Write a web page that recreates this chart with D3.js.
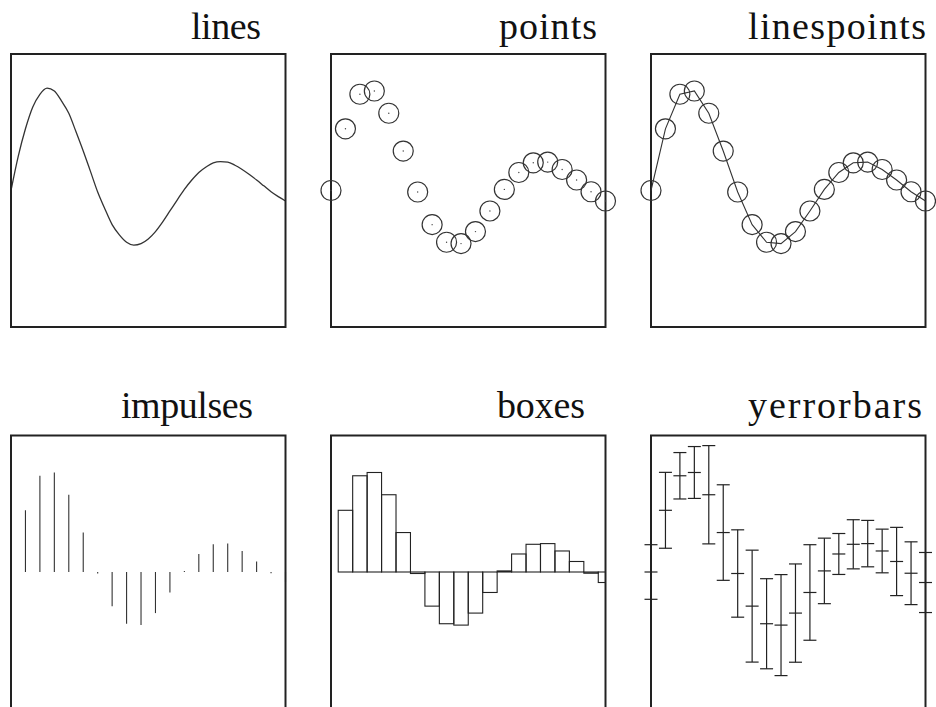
<!DOCTYPE html>
<html>
<head>
<meta charset="utf-8">
<script src="https://cdn.jsdelivr.net/npm/d3@7"></script>
<style>
  html, body { margin: 0; padding: 0; background: #fff; }
  svg { display: block; }
  .ttl { font-family: "Liberation Serif", "Times New Roman", serif; font-size: 38px; fill: #111; }
</style>
</head>
<body>
<svg id="chart" width="936" height="707"></svg>
<script>
// Plot-style names, one per panel (row-major)
const titles = ["lines", "points", "linespoints", "impulses", "boxes", "yerrorbars"];

// Sample positions and values shared by the discrete panels
const sampleX = [0, 1, 2, 3, 4, 5, 6, 7, 8, 9, 10, 11, 12, 13, 14, 15, 16, 17, 18, 19];
const sampleY = [0.000, 0.452, 0.705, 0.729, 0.566, 0.289, -0.011, -0.250, -0.379, -0.389,
                 -0.301, -0.150, 0.008, 0.132, 0.203, 0.208, 0.154, 0.077, -0.009, -0.077];

// Half-width of each error bar
const errorY = [0.20, 0.278, 0.17, 0.19, 0.36, 0.35, 0.32, 0.41, 0.33, 0.37,
                0.36, 0.35, 0.24, 0.15, 0.18, 0.17, 0.16, 0.25, 0.23, 0.22];

// Finer sampling of the same damped wave for the continuous "lines" panel
const curveX = [0, 0.5, 1, 1.5, 2, 2.5, 3, 3.5, 4, 4.5, 5, 5.5, 6, 6.5, 7, 7.5, 8, 8.5, 9, 9.5,
                10, 10.5, 11, 11.5, 12, 12.5, 13, 13.5, 14, 14.5, 15, 15.5, 16, 16.5, 17, 17.5, 18, 18.5, 19];
const curveY = [0.000, 0.250, 0.452, 0.610, 0.705, 0.750, 0.729, 0.655, 0.566, 0.430, 0.289, 0.140,
                -0.011, -0.135, -0.250, -0.325, -0.379, -0.400, -0.389, -0.355, -0.301, -0.230,
                -0.150, -0.070, 0.008, 0.075, 0.132, 0.172, 0.203, 0.212, 0.208, 0.185, 0.154,
                0.117, 0.077, 0.034, -0.009, -0.045, -0.077];

// ---- layout ----
const W = 274.5, H = 273;
const colLeft = [11, 331, 651];
const rowTop = [54, 435.5];
const titleEnd = [261, 597, 926, 253, 585, 922];
const titleWidth = [70, 98, 178, 132, 88, 174];
const titleBase = [38.5, 418];

const ink = "#222";
const svg = d3.select("#chart");

const x = d3.scaleLinear().domain([0, 19]).range([0, W]);
const y = d3.scaleLinear().domain([-1, 1]).range([H, 0]);

const pts = sampleX.map((v, i) => ({ x: v, y: sampleY[i], e: errorY[i] }));
const curvePts = curveX.map((v, i) => ({ x: v, y: curveY[i] }));

function panel(idx) {
  const col = idx % 3, row = Math.floor(idx / 3);
  const g = svg.append("g").attr("transform", `translate(${colLeft[col]},${rowTop[row]})`);
  svg.append("text").attr("class", "ttl")
    .attr("x", titleEnd[idx] - titleWidth[idx]).attr("y", titleBase[row])
    .attr("textLength", titleWidth[idx]).attr("lengthAdjust", "spacing")
    .text(titles[idx]);
  return g;
}

function frame(g) {
  g.append("rect").attr("x", 0).attr("y", 0).attr("width", W).attr("height", H)
    .attr("fill", "none").attr("stroke", ink).attr("stroke-width", 2);
}

const lineGen = d3.line().x(d => x(d.x)).y(d => y(d.y));

// lines
{
  const g = panel(0);
  g.append("path").datum(curvePts)
    .attr("d", lineGen.curve(d3.curveMonotoneX))
    .attr("fill", "none").attr("stroke", "#333").attr("stroke-width", 1.3);
  frame(g);
}

// points
{
  const g = panel(1);
  frame(g);
  g.selectAll("circle.ring").data(pts).join("circle").attr("class", "ring")
    .attr("cx", d => x(d.x)).attr("cy", d => y(d.y)).attr("r", 10)
    .attr("fill", "none").attr("stroke", "#333").attr("stroke-width", 1.2);
  g.selectAll("circle.dot").data(pts).join("circle").attr("class", "dot")
    .attr("cx", d => x(d.x)).attr("cy", d => y(d.y)).attr("r", 0.7)
    .attr("fill", "#444");
}

// linespoints
{
  const g = panel(2);
  frame(g);
  g.append("path").datum(pts)
    .attr("d", d3.line().x(d => x(d.x)).y(d => y(d.y)))
    .attr("fill", "none").attr("stroke", "#333").attr("stroke-width", 1.1);
  g.selectAll("circle").data(pts).join("circle")
    .attr("cx", d => x(d.x)).attr("cy", d => y(d.y)).attr("r", 10)
    .attr("fill", "none").attr("stroke", "#333").attr("stroke-width", 1.2);
}

// impulses
{
  const g = panel(3);
  g.selectAll("line").data(pts).join("line")
    .attr("x1", d => x(d.x)).attr("x2", d => x(d.x))
    .attr("y1", y(0)).attr("y2", d => Math.abs(y(d.y) - y(0)) < 1 ? y(0) + 1 : y(d.y))
    .attr("stroke", "#333").attr("stroke-width", 1.1);
  frame(g);
}

// boxes
{
  const g = panel(4);
  const cid = "clip-boxes";
  g.append("clipPath").attr("id", cid)
    .append("rect").attr("width", W).attr("height", H);
  g.append("g").attr("clip-path", `url(#${cid})`)
    .selectAll("rect").data(pts).join("rect")
    .attr("x", d => x(d.x - 0.5)).attr("width", x(1) - x(0))
    .attr("y", d => Math.min(y(d.y), y(0)))
    .attr("height", d => Math.abs(y(d.y) - y(0)))
    .attr("fill", "none").attr("stroke", "#222").attr("stroke-width", 1.1);
  frame(g);
}

// yerrorbars
{
  const g = panel(5);
  frame(g);
  const cap = 6.5;
  const bars = g.selectAll("g.bar").data(pts).join("g").attr("class", "bar");
  bars.append("line")
    .attr("x1", d => x(d.x)).attr("x2", d => x(d.x))
    .attr("y1", d => y(d.y - d.e)).attr("y2", d => y(d.y + d.e));
  bars.append("line")
    .attr("x1", d => x(d.x) - cap).attr("x2", d => x(d.x) + cap)
    .attr("y1", d => y(d.y + d.e)).attr("y2", d => y(d.y + d.e));
  bars.append("line")
    .attr("x1", d => x(d.x) - cap).attr("x2", d => x(d.x) + cap)
    .attr("y1", d => y(d.y - d.e)).attr("y2", d => y(d.y - d.e));
  bars.append("line")
    .attr("x1", d => x(d.x) - cap).attr("x2", d => x(d.x) + cap)
    .attr("y1", d => y(d.y)).attr("y2", d => y(d.y));
  bars.selectAll("line").attr("stroke", "#222").attr("stroke-width", 1.2);
}
</script>
</body>
</html>
